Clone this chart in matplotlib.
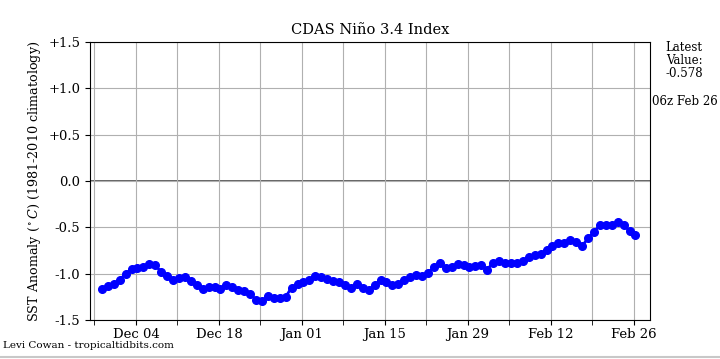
import numpy as np
import pandas as pd
import matplotlib
matplotlib.use("Agg")
import matplotlib.pyplot as plt
import matplotlib.dates as mdates

plt.rcParams['font.family'] = 'DejaVu Serif'
plt.rcParams['mathtext.fontset'] = 'dejavuserif'

# daily values, 06z, Nov 28 -> Feb 26
dates = pd.date_range("2023-11-28 06:00", "2024-02-26 06:00", freq="D")
anom = [-1.17, -1.135, -1.11, -1.07, -1.00, -0.95, -0.94, -0.93, -0.90, -0.91,
        -0.98, -1.02, -1.07, -1.05, -1.04, -1.08, -1.12, -1.17, -1.14, -1.14,
        -1.17, -1.12, -1.14, -1.18, -1.19, -1.22, -1.28, -1.30, -1.24, -1.26,
        -1.26, -1.25, -1.15, -1.11, -1.09, -1.07, -1.03, -1.04, -1.06, -1.08,
        -1.09, -1.12, -1.15, -1.11, -1.15, -1.18, -1.12, -1.07, -1.09, -1.12,
        -1.11, -1.07, -1.04, -1.01, -1.02, -0.99, -0.93, -0.89, -0.94, -0.93,
        -0.90, -0.91, -0.93, -0.92, -0.91, -0.955, -0.88, -0.865, -0.88, -0.88,
        -0.88, -0.865, -0.82, -0.80, -0.785, -0.74, -0.70, -0.67, -0.665, -0.64,
        -0.66, -0.70, -0.62, -0.55, -0.476, -0.476, -0.476, -0.44, -0.47, -0.54,
        -0.578]
yticks = [-1.5, -1.0, -0.5, 0.0, 0.5, 1.0, 1.5]
ylabels = ["-1.5", "-1.0", "-0.5", "0.0", "+0.5", "+1.0", "+1.5"]

fig = plt.figure(figsize=(7.2, 3.59), dpi=100)
ax = fig.add_axes([0.125, 0.1086, 0.7778, 0.7744])

ax.axhline(0, color='#555555', linewidth=1.3, zorder=1)
ax.plot(dates, anom, color='blue', linewidth=2, marker='o', markersize=5.5, zorder=3)

ax.set_xlim(pd.Timestamp("2023-11-26 06:00"), pd.Timestamp("2024-02-28 17:00"))
ax.set_ylim(-1.5, 1.5)
ax.set_yticks(yticks)
ax.set_yticklabels(ylabels)

# labels every two weeks, grid every week
major = pd.date_range("2023-12-04", "2024-02-26", freq="14D")
minor = pd.date_range("2023-11-27", "2024-02-26", freq="7D")
ax.set_xticks(major)
ax.set_xticks(minor, minor=True)
ax.xaxis.set_major_formatter(mdates.DateFormatter("%b %d"))
ax.grid(True, which='both', axis='x', color='#b0b0b0', linewidth=0.8)
ax.grid(True, which='major', axis='y', color='#b0b0b0', linewidth=0.8)
ax.tick_params(labelsize=9.5)
ax.tick_params(axis='x', pad=2)
ax.tick_params(which='minor', length=3.5)

ax.set_title("CDAS Niño 3.4 Index", fontsize=10.5)
ax.set_ylabel(r"SST Anomaly ($^\circ C$) (1981-2010 climatology)", fontsize=9.2)

fig.text(0.95, 0.885, "Latest\nValue:\n%.3f" % anom[-1], ha='center', va='top',
         fontsize=8.5, linespacing=1.0)
fig.text(0.951, 0.718, "06z Feb 26", ha='center', va='center', fontsize=8.5)
fig.text(0.004, 0.038, "Levi Cowan - tropicaltidbits.com", ha='left', va='center',
         fontsize=7.5)
fig.add_artist(plt.Line2D([0, 1], [0.006, 0.006], color='#c8c8c8', linewidth=1.5))

fig.savefig("out.png", dpi=100)
